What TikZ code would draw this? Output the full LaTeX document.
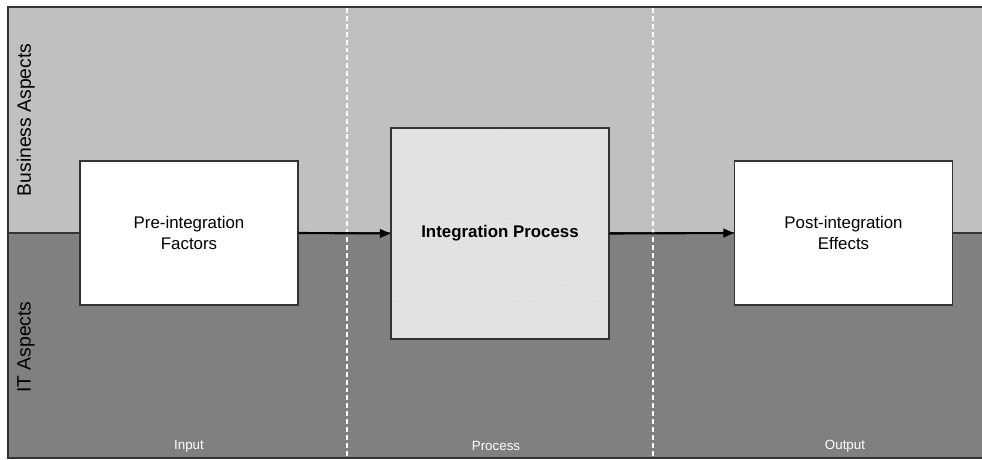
\documentclass[tikz,border=0pt]{standalone}
\usepackage{fontspec}
\setmainfont{Liberation Sans}
\usetikzlibrary{arrows.meta}
\usetikzlibrary{patterns}
\definecolor{upper}{HTML}{C0C0C0}
\definecolor{lower}{HTML}{808080}
\definecolor{frame}{HTML}{333333}
\definecolor{procfill}{HTML}{E2E2E2}

\begin{document}
\begin{tikzpicture}[x=0.02cm,y=-0.02cm]
      \tikzstyle box=[draw=frame, line width=0.8pt, fill=white,
      minimum width=4.36cm, minimum height=2.88cm, inner sep=0pt,
      align=center, font=\fontsize{9.6}{12}\selectfont]
      \tikzstyle flow=[line width=1.2pt, black, -{Triangle[length=6pt,width=5pt]}]
      \tikzstyle divider=[white, line width=1.1pt, dash pattern=on 2.8pt off 1.7pt]
      \tikzstyle side=[rotate=90, font=\fontsize{11}{13}\selectfont]
      \tikzstyle phase=[white, font=\fontsize{7.6}{9}\selectfont]
      \useasboundingbox (0,0) rectangle (982,459);
      \fill [upper] (8,7) rectangle (982,233);
      \fill [lower] (8,233) rectangle (982,458);
      \draw [frame, line width=1pt] (982,7) -- (8,7) -- (8,458) -- (982,458);
      \draw [frame, line width=1pt] (8,233) -- (982,233);
      \draw [divider] (347,8) -- (347,457);
      \draw [divider] (653,8) -- (653,457);
      \node [side] (business) at (26,120) {Business Aspects};
      \node [side] (itside) at (26,347) {IT Aspects};
      \node [phase] (input) at (189,446) {Input};
      \node [phase] (process) at (496,446) {Process};
      \node [phase] (output) at (845,446) {Output};
      \node [box] (pre) at (189,233) {Pre-integration\\Factors};
      \node [box, fill=none, minimum height=4.22cm,
      preaction={fill=procfill},
      preaction={pattern=crosshatch dots, pattern color=black!10},
      font=\fontsize{9.6}{12}\selectfont\bfseries] (integ) at (500,233.5) {Integration Process};
      \node [box] (post) at (843.5,233) {Post-integration\\Effects};
      \draw [flow] (pre.east) -- (integ.west);
      \draw [flow] (integ.east) -- (post.west);
\end{tikzpicture}
\end{document}
